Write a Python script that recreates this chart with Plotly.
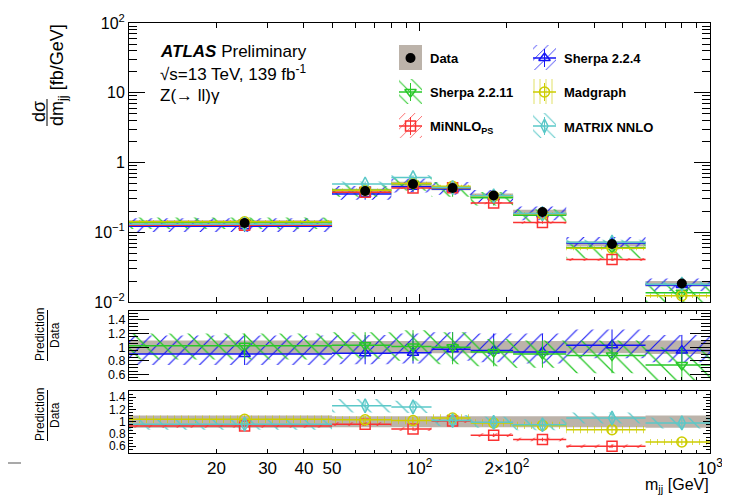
import plotly.graph_objects as go

# ---------------- data ----------------
bin_edges = [0, 50, 80, 110, 150, 210, 320, 600, 1000]
data_xsec = [0.136, 0.39, 0.49, 0.43, 0.336, 0.195, 0.068, 0.0184]
data_unc_main = [0.09, 0.08, 0.08, 0.07, 0.07, 0.08, 0.08, 0.09]
data_unc_ratio = [0.10, 0.09, 0.09, 0.09, 0.09, 0.09, 0.09, 0.10]

sherpa224_ratio = [0.90, 0.91, 0.92, 0.97, 0.95, 0.93, 1.03, 0.95]
sherpa224_lo = [0.74, 0.75, 0.76, 0.80, 0.78, 0.76, 0.84, 0.78]
sherpa224_hi = [1.17, 1.18, 1.20, 1.22, 1.20, 1.20, 1.26, 1.18]

sherpa2211_ratio = [1.02, 1.03, 1.01, 1.00, 0.93, 0.90, 0.88, 0.74]
sherpa2211_lo = [0.82, 0.83, 0.80, 0.75, 0.72, 0.70, 0.62, 0.45]
sherpa2211_hi = [1.20, 1.22, 1.25, 1.22, 1.12, 1.10, 1.10, 1.00]

minnlo_ratio = [0.93, 0.96, 0.88, 1.01, 0.78, 0.71, 0.60, None]
minnlo_lo = [0.90, 0.93, 0.85, 0.98, 0.75, 0.68, 0.57, None]
minnlo_hi = [0.96, 0.99, 0.91, 1.04, 0.81, 0.74, 0.63, None]

madgraph_ratio = [1.04, 1.03, 1.02, 1.06, 0.98, 0.94, 0.87, 0.67]
madgraph_lo = [0.98, 0.97, 0.96, 1.00, 0.92, 0.88, 0.81, 0.62]
madgraph_hi = [1.10, 1.09, 1.08, 1.12, 1.04, 1.00, 0.93, 0.72]

matrix_ratio = [0.96, 1.26, 1.24, 1.02, 0.99, 0.95, 1.06, 0.98]
matrix_lo = [0.87, 1.15, 1.14, 0.93, 0.90, 0.86, 0.97, 0.89]
matrix_hi = [1.05, 1.37, 1.34, 1.11, 1.08, 1.04, 1.15, 1.07]

x_tick_vals = [20, 30, 40, 50, 100, 200, 1000]
x_tick_text = ["20", "30", "40", "50", "10<sup>2</sup>", "2×10<sup>2</sup>", "10<sup>3</sup>"]
y_tick_vals = [0.01, 0.1, 1, 10, 100]
y_tick_text = ["10<sup>−2</sup>", "10<sup>−1</sup>", "1", "10", "10<sup>2</sup>"]
r_tick_vals = [0.6, 0.8, 1.0, 1.2, 1.4]
r_tick_text = ["0.6", "0.8", "1", "1.2", "1.4"]

# ---------------- layout geometry ----------------
W, H = 730, 495
ML, MR, MT, MB = 121, 28, 15, 50
PW, PH = W - ML - MR, H - MT - MB
X_MIN, X_MAX = 10, 1000
FONT = "Liberation Sans, Arial, Helvetica, sans-serif"


def px(xp):
    return (xp - ML) / PW


def py(yp):
    return (H - MB - yp) / PH


dom_main = [py(294), 1.0]
dom_r1 = [py(372), py(303)]
dom_r2 = [0.0, py(383)]

GREY = "rgb(188,179,170)"
HATCH_SOLID = 0.1
models = [
    dict(name="Sherpa 2.2.4", r=sherpa224_ratio, lo=sherpa224_lo, hi=sherpa224_hi,
         color="rgb(20,20,245)", hatch="/", hsize=11, symbol="triangle-up-open", panel=1),
    dict(name="Sherpa 2.2.11", r=sherpa2211_ratio, lo=sherpa2211_lo, hi=sherpa2211_hi,
         color="rgb(40,200,40)", hatch="\\", hsize=13, symbol="triangle-down-open", panel=1),
    dict(name="MiNNLO", r=minnlo_ratio, lo=minnlo_lo, hi=minnlo_hi,
         color="rgb(250,50,50)", hatch="/", hsize=10, symbol="square-open", panel=2),
    dict(name="Madgraph", r=madgraph_ratio, lo=madgraph_lo, hi=madgraph_hi,
         color="rgb(205,205,0)", hatch="|", hsize=7, symbol="circle-open", panel=2),
    dict(name="MATRIX NNLO", r=matrix_ratio, lo=matrix_lo, hi=matrix_hi,
         color="rgb(90,200,200)", hatch="\\", hsize=13, symbol="diamond-tall-open", panel=2),
]


def lo_edge(i):
    return max(bin_edges[i], X_MIN)


def centre(i):
    return 0.5 * (bin_edges[i] + bin_edges[i + 1])


def steps(vals):
    xs, ys = [], []
    for i, v in enumerate(vals):
        if v is None:
            continue
        xs += [lo_edge(i), bin_edges[i + 1], None]
        ys += [v, v, None]
    return xs, ys


def boxes(lo, hi):
    xs, ys = [], []
    for i, (a, b) in enumerate(zip(lo, hi)):
        if a is None:
            continue
        x0, x1 = lo_edge(i), bin_edges[i + 1]
        xs += [x0, x1, x1, x0, x0, None]
        ys += [a, a, b, b, a, None]
    return xs, ys


def times(arr, k):
    return [None if a is None else a * b for a, b in zip(arr, k)]


def pattern(m, size):
    return dict(shape=m["hatch"], fgcolor=m["color"], fgopacity=1.0,
                bgcolor="rgba(0,0,0,0)", size=size, solidity=HATCH_SOLID)


fig = go.Figure()


def add_grey(xa, ya, lo, hi):
    bx, by = boxes(lo, hi)
    fig.add_trace(go.Scatter(x=bx, y=by, xaxis=xa, yaxis=ya, mode="none", fill="toself",
                             fillcolor=GREY, hoverinfo="skip", showlegend=False))


def add_model_band(m, xa, ya, k):
    lo, hi = times(m["lo"], k), times(m["hi"], k)
    bx, by = boxes(lo, hi)
    fig.add_trace(go.Scatter(x=bx, y=by, xaxis=xa, yaxis=ya, mode="none", fill="toself",
                             fillcolor="rgba(0,0,0,0)", fillpattern=pattern(m, m["hsize"]),
                             hoverinfo="skip", showlegend=False))


def add_model_line(m, xa, ya, k):
    val = times(m["r"], k)
    lo, hi = times(m["lo"], k), times(m["hi"], k)
    sx, sy = steps(val)
    fig.add_trace(go.Scatter(x=sx, y=sy, xaxis=xa, yaxis=ya, mode="lines",
                             line=dict(color=m["color"], width=1.5),
                             hoverinfo="skip", showlegend=False))
    idx = [i for i, v in enumerate(val) if v is not None]
    fig.add_trace(go.Scatter(
        x=[centre(i) for i in idx], y=[val[i] for i in idx], xaxis=xa, yaxis=ya,
        mode="markers",
        marker=dict(symbol=m["symbol"], size=10, color=m["color"],
                    line=dict(color=m["color"], width=1.5)),
        error_y=dict(type="data", symmetric=False,
                     array=[hi[i] - val[i] for i in idx],
                     arrayminus=[val[i] - lo[i] for i in idx],
                     color=m["color"], thickness=1, width=0),
        hoverinfo="skip", showlegend=False))


ones = [1.0] * len(data_xsec)

# main panel
add_grey("x", "y", [d * (1 - u) for d, u in zip(data_xsec, data_unc_main)],
         [d * (1 + u) for d, u in zip(data_xsec, data_unc_main)])
for m in models:
    add_model_band(m, "x", "y", data_xsec)
for m in models:
    add_model_line(m, "x", "y", data_xsec)
fig.add_trace(go.Scatter(x=[centre(i) for i in range(len(data_xsec))], y=data_xsec,
                         xaxis="x", yaxis="y", mode="markers",
                         marker=dict(symbol="circle", size=10, color="black"),
                         hoverinfo="skip", showlegend=False))

# ratio panels
for panel, (xa, ya) in [(1, ("x2", "y2")), (2, ("x3", "y3"))]:
    add_grey(xa, ya, [1 - u for u in data_unc_ratio], [1 + u for u in data_unc_ratio])
    sel = [m for m in models if m["panel"] == panel]
    for m in sel:
        add_model_band(m, xa, ya, ones)
    for m in sel:
        add_model_line(m, xa, ya, ones)

# ---------------- legend (pixel overlay axes on the main panel) ----------------
leg_rows = [50, 84, 118]
leg_cols = [(391, 414), (525, 548)]
legend_items = [
    (None, 0, 0, "<b>Data</b>"),
    (models[0], 1, 0, "<b>Sherpa 2.2.4</b>"),
    (models[1], 0, 1, "<b>Sherpa 2.2.11</b>"),
    (models[3], 1, 1, "<b>Madgraph</b>"),
    (models[2], 0, 2, "<b>MiNNLO<sub>PS</sub></b>"),
    (models[4], 1, 2, "<b>MATRIX NNLO</b>"),
]
annotations = []
for m, c, r, label in legend_items:
    x0, x1 = leg_cols[c]
    cy = leg_rows[r]
    xc = 0.5 * (x0 + x1)
    if m is None:
        fig.add_trace(go.Scatter(x=[x0, x1, x1, x0, x0], y=[cy - 13, cy - 13, cy + 12, cy + 12, cy - 13],
                                 xaxis="x4", yaxis="y4", mode="none", fill="toself",
                                 fillcolor=GREY, hoverinfo="skip", showlegend=False))
        fig.add_trace(go.Scatter(x=[xc], y=[cy], xaxis="x4", yaxis="y4", mode="markers",
                                 marker=dict(symbol="circle", size=10, color="black"),
                                 hoverinfo="skip", showlegend=False))
    else:
        fig.add_trace(go.Scatter(x=[x0, x1, x1, x0, x0], y=[cy - 13, cy - 13, cy + 12, cy + 12, cy - 13],
                                 xaxis="x4", yaxis="y4", mode="none", fill="toself",
                                 fillcolor="rgba(0,0,0,0)",
                                 fillpattern=pattern(m, max(m["hsize"] - 3, 6)),
                                 hoverinfo="skip", showlegend=False))
        fig.add_trace(go.Scatter(x=[x0, x1], y=[cy, cy], xaxis="x4", yaxis="y4", mode="lines",
                                 line=dict(color=m["color"], width=1.5),
                                 hoverinfo="skip", showlegend=False))
        fig.add_trace(go.Scatter(x=[xc, xc], y=[cy - 9, cy + 9], xaxis="x4", yaxis="y4", mode="lines",
                                 line=dict(color=m["color"], width=1),
                                 hoverinfo="skip", showlegend=False))
        fig.add_trace(go.Scatter(x=[xc], y=[cy], xaxis="x4", yaxis="y4", mode="markers",
                                 marker=dict(symbol=m["symbol"], size=10, color=m["color"],
                                             line=dict(color=m["color"], width=1.5)),
                                 hoverinfo="skip", showlegend=False))
    annotations.append(dict(x=px(x1 + 6), y=py(cy + 1), xref="paper", yref="paper",
                            text=label, showarrow=False, xanchor="left", yanchor="middle",
                            font=dict(family=FONT, size=13, color="black")))

# ---------------- text ----------------
def ann(text, x, y, size, xanchor="left", yanchor="middle", angle=0):
    annotations.append(dict(x=px(x), y=py(y), xref="paper", yref="paper", text=text,
                            showarrow=False, xanchor=xanchor, yanchor=yanchor,
                            textangle=angle, font=dict(family=FONT, size=size, color="black")))


ann("<b><i>ATLAS</i></b> Preliminary", 150, 44, 17)
ann("√s=13 TeV, 139 fb<sup>-1</sup>", 150, 65, 17)
ann("Z(→ ll)γ", 150, 87, 17)
ann("m<sub>jj</sub> [GeV]", 703, 477, 16, xanchor="right")

# y titles
ann("dσ", 31, 104, 18, xanchor="center", angle=-90)
ann("dm<sub>jj</sub> [fb/GeV]", 51, 67, 18, xanchor="center", angle=-90)
ann("Prediction", 32, 327, 12, xanchor="center", angle=-90)
ann("Data", 47, 327, 12, xanchor="center", angle=-90)
ann("Prediction", 32, 407, 12, xanchor="center", angle=-90)
ann("Data", 47, 407, 12, xanchor="center", angle=-90)

shapes = [
    dict(type="line", xref="paper", yref="paper", x0=px(39), x1=px(39), y0=py(91), y1=py(118),
         line=dict(color="black", width=1)),
    dict(type="line", xref="paper", yref="paper", x0=px(39.5), x1=px(39.5), y0=py(302), y1=py(353),
         line=dict(color="black", width=1)),
    dict(type="line", xref="paper", yref="paper", x0=px(39.5), x1=px(39.5), y0=py(382), y1=py(433),
         line=dict(color="black", width=1)),
    dict(type="line", xref="paper", yref="paper", x0=px(0), x1=px(13), y0=py(455), y1=py(455),
         line=dict(color="rgb(140,140,140)", width=1.5)),
    dict(type="line", xref="paper", yref="paper", x0=px(720), x1=px(730), y0=py(369), y1=py(369),
         line=dict(color="rgb(70,70,70)", width=1.2)),
    dict(type="line", xref="paper", yref="paper", x0=px(720), x1=px(730), y0=py(387), y1=py(387),
         line=dict(color="rgb(70,70,70)", width=1.2)),
]

# ---------------- axes ----------------
x_minor_all = [k * 10 ** e for e in (1, 2) for k in range(2, 10)]
x_minor_r2 = [v for v in x_minor_all if v not in x_tick_vals]
y_minor = [k * 10 ** e for e in (-2, -1, 0, 1) for k in range(2, 10)]
r_minor = [0.55, 0.65, 0.7, 0.75, 0.85, 0.9, 0.95, 1.05, 1.1, 1.15, 1.25, 1.3, 1.35, 1.45, 1.5]

common_x = dict(type="log", range=[1, 3], showgrid=False, zeroline=False, showline=True,
                linecolor="black", linewidth=1, mirror="allticks", ticks="inside",
                tickcolor="black", tickwidth=1, automargin=False)
common_y = dict(showgrid=False, zeroline=False, showline=True, linecolor="black", linewidth=1,
                mirror="allticks", ticks="inside", tickcolor="black", tickwidth=1,
                automargin=False)

layout_axes = dict(
    xaxis=dict(common_x, domain=[0, 1], anchor="y", tickvals=[10, 100, 1000], ticklen=8,
               showticklabels=False,
               minor=dict(tickmode="array", tickvals=x_minor_all, ticks="inside", ticklen=5,
                          tickcolor="black", showgrid=False)),
    yaxis=dict(common_y, domain=dom_main, anchor="x", type="log", range=[-2, 2],
               tickvals=y_tick_vals, ticktext=y_tick_text, ticklen=16,
               tickfont=dict(family=FONT, size=16, color="black"),
               minor=dict(tickmode="array", tickvals=y_minor, ticks="inside", ticklen=8,
                          tickcolor="black", showgrid=False)),
    xaxis2=dict(common_x, domain=[0, 1], anchor="y2", tickvals=[10, 100, 1000], ticklen=4,
                showticklabels=False,
                minor=dict(tickmode="array", tickvals=x_minor_all, ticks="inside", ticklen=3,
                           tickcolor="black", showgrid=False)),
    yaxis2=dict(common_y, domain=dom_r1, anchor="x2", range=[0.52, 1.53],
                tickvals=r_tick_vals, ticktext=r_tick_text, ticklen=20,
                tickfont=dict(family=FONT, size=12.5, color="black"),
                minor=dict(tickmode="array", tickvals=r_minor, ticks="inside", ticklen=9,
                           tickcolor="black", showgrid=False)),
    xaxis3=dict(common_x, domain=[0, 1], anchor="y3", tickvals=x_tick_vals, ticktext=x_tick_text,
                ticklen=4, ticklabelstandoff=0,
                tickfont=dict(family=FONT, size=17, color="black"),
                minor=dict(tickmode="array", tickvals=x_minor_r2, ticks="inside", ticklen=3,
                           tickcolor="black", showgrid=False)),
    yaxis3=dict(common_y, domain=dom_r2, anchor="x3", range=[0.49, 1.5],
                tickvals=r_tick_vals, ticktext=r_tick_text, ticklen=7,
                tickfont=dict(family=FONT, size=12, color="black"),
                minor=dict(tickmode="array", tickvals=r_minor, ticks="inside", ticklen=4,
                           tickcolor="black", showgrid=False)),
    xaxis4=dict(overlaying="x", anchor="y4", range=[ML, W - MR], visible=False, showgrid=False,
                automargin=False),
    yaxis4=dict(overlaying="y", anchor="x4", range=[294, MT], visible=False, showgrid=False,
                automargin=False),
)

fig.update_layout(
    width=W, height=H,
    margin=dict(l=ML, r=MR, t=MT, b=MB, pad=0, autoexpand=False),
    paper_bgcolor="white", plot_bgcolor="white",
    showlegend=False,
    font=dict(family=FONT, color="black"),
    annotations=annotations,
    shapes=shapes,
    **layout_axes,
)

fig.write_html("out.html")
